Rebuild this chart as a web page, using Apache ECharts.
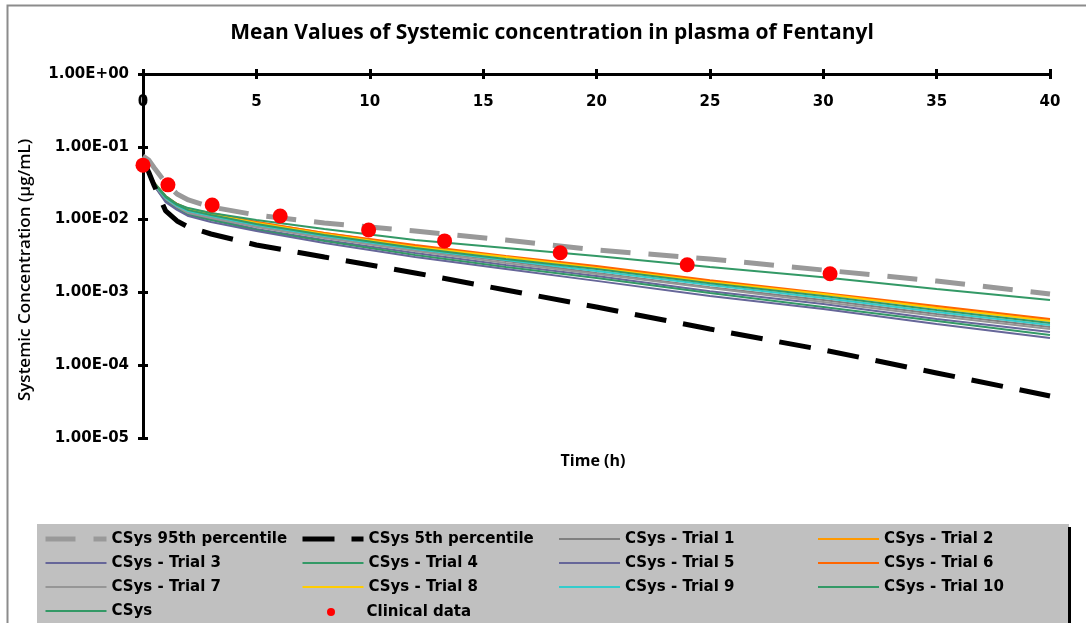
<!DOCTYPE html>
<html><head><meta charset="utf-8">
<script src="https://cdn.jsdelivr.net/npm/echarts@6/dist/echarts.min.js"></script>
<style>html,body{margin:0;padding:0;background:#fff}#c{width:1086px;height:623px}</style>
</head><body><div id="c"></div><script>
// time points (h)
const times = [0, 0.25, 0.5, 1, 1.5, 2, 3, 5, 8, 12, 16, 20, 25, 30, 35, 40];
// concentrations (ug/mL)
const p95    = [0.0748, 0.0659, 0.0512, 0.0318, 0.0225, 0.0186, 0.0149, 0.01156, 0.00898, 0.00697, 0.00525, 0.00382, 0.00288, 0.00203, 0.00143, 0.000951];
const p5     = [0.0659, 0.0451, 0.0290, 0.01313, 0.00957, 0.00791, 0.00634, 0.00448, 0.00306, 0.00185, 0.00108, 0.000630, 0.000314, 0.000162, 0.0000782, 0.0000378];
const trial1 = [0.0659, 0.0451, 0.0308, 0.0192, 0.0149, 0.0127, 0.0109, 0.00817, 0.00577, 0.00382, 0.00270, 0.00185, 0.00118, 0.000786, 0.000505, 0.000335];
const trial2 = [0.0659, 0.0451, 0.0318, 0.0204, 0.0164, 0.0140, 0.0119, 0.00927, 0.00655, 0.00433, 0.00307, 0.00224, 0.00143, 0.000950, 0.000629, 0.000418];
const trial3 = [0.0659, 0.0451, 0.0298, 0.0186, 0.0145, 0.0119, 0.0102, 0.00743, 0.00524, 0.00347, 0.00238, 0.00168, 0.00104, 0.000692, 0.000431, 0.000286];
const trial4 = [0.0659, 0.0451, 0.0289, 0.0180, 0.0140, 0.0115, 0.00987, 0.00720, 0.00508, 0.00326, 0.00223, 0.00158, 0.000978, 0.000629, 0.000405, 0.000260];
const trial5 = [0.0659, 0.0451, 0.0289, 0.0174, 0.0136, 0.0112, 0.00926, 0.00697, 0.00477, 0.00306, 0.00210, 0.00144, 0.000890, 0.000591, 0.000368, 0.000237];
const trial6 = [0.0659, 0.0451, 0.0318, 0.0211, 0.0164, 0.0140, 0.0123, 0.00927, 0.00655, 0.00447, 0.00317, 0.00230, 0.00147, 0.000979, 0.000651, 0.000432];
const trial7 = [0.0659, 0.0451, 0.0298, 0.0192, 0.0149, 0.0123, 0.0105, 0.00792, 0.00559, 0.00370, 0.00254, 0.00179, 0.00115, 0.000737, 0.000474, 0.000315];
const trial8 = [0.0659, 0.0451, 0.0318, 0.0204, 0.0159, 0.0140, 0.0119, 0.00898, 0.00634, 0.00420, 0.00307, 0.00217, 0.00139, 0.000950, 0.000611, 0.000405];
const trial9 = [0.0659, 0.0451, 0.0308, 0.0198, 0.0154, 0.0131, 0.0112, 0.00843, 0.00595, 0.00394, 0.00279, 0.00197, 0.00126, 0.000837, 0.000538, 0.000357];
const trial10= [0.0659, 0.0451, 0.0318, 0.0211, 0.0164, 0.0144, 0.0123, 0.00986, 0.00744, 0.00524, 0.00407, 0.00317, 0.00223, 0.00162, 0.00111, 0.000785];
const csys   = [0.0659, 0.0451, 0.0308, 0.0204, 0.0159, 0.0135, 0.0116, 0.00870, 0.00614, 0.00407, 0.00288, 0.00210, 0.00134, 0.000891, 0.000573, 0.000380];
// clinical observations
const clinTimes = [0, 1.1, 3.05, 6.05, 9.95, 13.3, 18.4, 24.0, 30.3];
const clinVals  = [0.056, 0.030, 0.0159, 0.0112, 0.0072, 0.0051, 0.0035, 0.0024, 0.0018];
// labels
const xTicks = [0, 5, 10, 15, 20, 25, 30, 35, 40];
const yTicks = ['1.00E+00','1.00E-01','1.00E-02','1.00E-03','1.00E-04','1.00E-05'];

const pair = (arr) => times.map((t, i) => [t, arr[i]]);
const TICKFONT = {fontFamily: 'DejaVu Sans', fontWeight: 'bold', fontSize: 15, color: '#000'};

function line(name, arr, color, width, type, z) {
  return {name, type: 'line', data: pair(arr), symbol: 'none', showSymbol: false,
    xAxisIndex: 0, yAxisIndex: 0, z: z || 2, animation: false,
    lineStyle: {color, width, type: type || 'solid', cap: 'butt'}, itemStyle: {color}};
}
const series = [
  line('CSys 95th percentile', p95, '#999999', 5, [30, 18], 3),
  line('CSys 5th percentile', p5, '#000000', 5, [32, 17], 3),
  line('CSys - Trial 1', trial1, '#808080', 2),
  line('CSys - Trial 2', trial2, '#FF9900', 2),
  line('CSys - Trial 3', trial3, '#666699', 2),
  line('CSys - Trial 4', trial4, '#339966', 2),
  line('CSys - Trial 5', trial5, '#666699', 2),
  line('CSys - Trial 6', trial6, '#FF6600', 2),
  line('CSys - Trial 7', trial7, '#969696', 2),
  line('CSys - Trial 8', trial8, '#FFCC00', 2),
  line('CSys - Trial 9', trial9, '#33CCCC', 2),
  line('CSys - Trial 10', trial10, '#339966', 2),
  line('CSys', csys, '#339966', 2),
  {name: 'Clinical data', type: 'scatter', data: clinTimes.map((t, i) => [t, clinVals[i]]),
   symbol: 'circle', symbolSize: 15, itemStyle: {color: '#FF0000', opacity: 1}, z: 5, animation: false}
];

const legendBase = {orient: 'vertical', top: 531, itemWidth: 61, itemHeight: 14, itemGap: 8, padding: 0,
  textStyle: {fontFamily: 'DejaVu Sans', fontWeight: 'bold', fontSize: 15, lineHeight: 16, color: '#000'},
  itemStyle: {opacity: 0, borderWidth: 0},
  selectedMode: false, z: 10};
const legends = [
  Object.assign({}, legendBase, {left: 43, data: [{name: 'CSys 95th percentile', lineStyle: {width: 5}}, 'CSys - Trial 3', 'CSys - Trial 7', 'CSys']}),
  Object.assign({}, legendBase, {left: 300, data: [{name: 'CSys 5th percentile', lineStyle: {width: 5}}, 'CSys - Trial 4', 'CSys - Trial 8']}),
  Object.assign({}, legendBase, {left: 558, data: ['CSys - Trial 1', 'CSys - Trial 5', 'CSys - Trial 9']}),
  Object.assign({}, legendBase, {left: 817, data: ['CSys - Trial 2', 'CSys - Trial 6', 'CSys - Trial 10']}),
  Object.assign({}, legendBase, {left: 327, top: 604, itemHeight: 8, itemStyle: {opacity: 1}, data: ['Clinical data']})
];

const xBase = {type: 'value', min: 0, max: 40, interval: 5, position: 'top', splitLine: {show: false}};
const yBase = {type: 'log', logBase: 10, min: 1e-5, max: 1, splitNumber: 5, position: 'left', splitLine: {show: false}};

const option = {
  animation: false,
  backgroundColor: '#ffffff',
  title: {text: 'Mean Values of Systemic concentration in plasma of Fentanyl', left: 547, top: 18, textAlign: 'center',
    textStyle: {fontFamily: 'Open Sans', fontWeight: 'bold', fontSize: 21, color: '#000'}},
  grid: {left: 143, top: 74, right: 36, bottom: 185, containLabel: false},
  xAxis: [
    Object.assign({}, xBase, {
      axisLine: {show: true, lineStyle: {color: '#000', width: 3}},
      axisTick: {show: true, inside: false, length: 5, lineStyle: {color: '#000', width: 3}},
      axisLabel: Object.assign({show: true, inside: true, margin: 21, formatter: (v) => String(v)}, TICKFONT)
    }),
    Object.assign({}, xBase, {
      axisLine: {show: false},
      axisTick: {show: true, inside: true, length: 5, lineStyle: {color: '#000', width: 3}},
      axisLabel: {show: false}
    })
  ],
  yAxis: [
    Object.assign({}, yBase, {
      axisLine: {show: true, lineStyle: {color: '#000', width: 3}},
      axisTick: {show: true, inside: false, length: 5, lineStyle: {color: '#000', width: 3}},
      axisLabel: Object.assign({show: true, margin: 14, formatter: (v) => {
        const e = Math.round(-Math.log10(v));
        return yTicks[e] !== undefined ? yTicks[e] : '';
      }}, TICKFONT)
    }),
    Object.assign({}, yBase, {
      axisLine: {show: false},
      axisTick: {show: true, inside: true, length: 5, lineStyle: {color: '#000', width: 3}},
      axisLabel: {show: false}
    })
  ],
  legend: legends,
  graphic: [
    {type: 'rect', z: -10, shape: {x: 7.5, y: 5.5, width: 1095, height: 640}, style: {fill: 'none', stroke: '#8c8c8c', lineWidth: 2}},
    {type: 'rect', z: -5, shape: {x: 37, y: 524, width: 1032, height: 110}, style: {fill: '#C0C0C0', stroke: 'none'}},
    {type: 'rect', z: -4, shape: {x: 1068, y: 527, width: 3, height: 110}, style: {fill: '#000', stroke: 'none'}},
    {type: 'text', z: 5, x: 25, y: 270, rotation: Math.PI / 2,
      style: {text: 'Systemic Concentration (µg/mL)', fontFamily: 'Open Sans', fontSize: 17, fontWeight: 600,
        fill: '#000', textAlign: 'center', textVerticalAlign: 'middle'}},
    {type: 'text', z: 5, x: 593, y: 461,
      style: {text: 'Time (h)', fontFamily: 'Open Sans', fontSize: 16, fontWeight: 'bold',
        fill: '#000', textAlign: 'center', textVerticalAlign: 'middle'}}
  ],
  series
};
const chart = echarts.init(document.getElementById('c'), null, {renderer: 'canvas'});
chart.setOption(option);
</script></body></html>
